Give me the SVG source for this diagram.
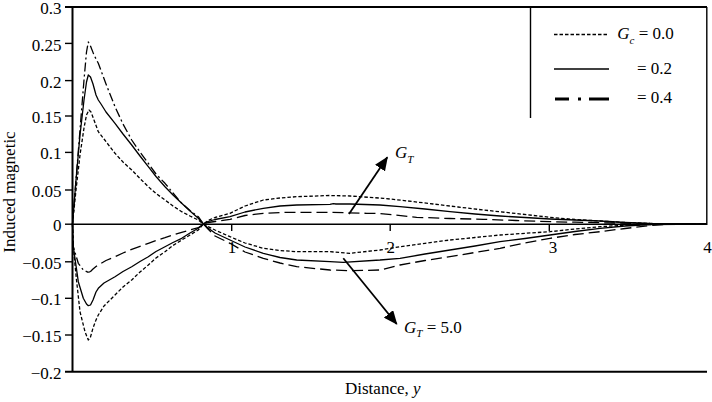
<svg xmlns="http://www.w3.org/2000/svg" width="712" height="402" viewBox="0 0 712 402">
<style>
text{font-family:"Liberation Serif","Times New Roman",serif;font-size:17px;fill:#000}
.it{font-style:italic}
.ax{stroke:#000;stroke-width:2;fill:none}
.thin{stroke:#000;stroke-width:1.4;fill:none}
.c{fill:none;stroke:#000;stroke-width:1.3;stroke-linejoin:round;stroke-linecap:butt}
.sd{stroke-dasharray:3.5 2}
.ld{stroke-dasharray:11 5}
.dd{stroke-dasharray:9 3 2 3}
.arr{stroke:#000;stroke-width:1.8;fill:none}
</style>
<defs>
<marker id="ah" markerUnits="userSpaceOnUse" markerWidth="14" markerHeight="12" refX="13" refY="6" orient="auto">
<path d="M0,0 L14,6 L0,12 z" fill="#000"/>
</marker>
</defs>
<rect width="712" height="402" fill="#fff"/>

<g id="axes">
<line class="ax" x1="72.5" y1="7" x2="72.5" y2="372"/>
<line class="ax" x1="65" y1="7" x2="707" y2="7"/>
<line class="ax" x1="65" y1="371.8" x2="707" y2="371.8"/>
<line class="thin" x1="706.8" y1="7" x2="706.8" y2="225"/>
<line class="thin" x1="72.5" y1="224.2" x2="707" y2="224.2"/>
<line class="thin" x1="530.5" y1="7" x2="530.5" y2="118" stroke-width="1"/>
<g class="thin">
<line x1="65" y1="43.4" x2="72.5" y2="43.4"/>
<line x1="65" y1="80.6" x2="72.5" y2="80.6"/>
<line x1="65" y1="116" x2="72.5" y2="116"/>
<line x1="65" y1="152.4" x2="72.5" y2="152.4"/>
<line x1="65" y1="190" x2="72.5" y2="190"/>
<line x1="65" y1="224.2" x2="72.5" y2="224.2"/>
<line x1="65" y1="261.8" x2="72.5" y2="261.8"/>
<line x1="65" y1="298.3" x2="72.5" y2="298.3"/>
<line x1="65" y1="335" x2="72.5" y2="335"/>
<line x1="231.7" y1="224.2" x2="231.7" y2="231"/>
<line x1="390.2" y1="224.2" x2="390.2" y2="231"/>
<line x1="549.3" y1="224.2" x2="549.3" y2="231"/>
</g>
<g text-anchor="end">
<text x="61.5" y="14">0.3</text>
<text x="61.5" y="50.5">0.25</text>
<text x="61.5" y="87.6">0.2</text>
<text x="61.5" y="123">0.15</text>
<text x="61.5" y="159.4">0.1</text>
<text x="61.5" y="197">0.05</text>
<text x="61.5" y="231.2">0</text>
<text x="61.5" y="268.8">−0.05</text>
<text x="61.5" y="305.3">−0.1</text>
<text x="61.5" y="342">−0.15</text>
<text x="61.5" y="378.7">−0.2</text>
</g>
<g text-anchor="middle">
<text x="232" y="253.3">1</text>
<text x="390.7" y="253.3">2</text>
<text x="553" y="253.3">3</text>
<text x="707.5" y="253.3">4</text>
</g>
<text x="345" y="394">Distance, <tspan class="it">y</tspan></text>
<text transform="translate(15,192) rotate(-90)" text-anchor="middle">Induced magnetic</text>
</g>

<g id="curves">
<polyline class="c dd" points="72.5,224 76,180 80,130 84,80 86.5,52 88.3,42 90.5,46 94,55 98.3,63.3 106,84 115,106.7 123,124 131.7,140 140,152 148.3,163.3 156,174 165,183.3 173,193 181.7,203.3 190,210.5 198.3,216.7 203.5,224"/>
<polyline class="c ld" points="203.5,224 208,229 215,236 230,243.3 245,252 263.3,258.3 280,263 296.7,266.7 330,270 350,270.7 380,270 400,265 425,260.5 450,256.7 475,252.5 500,248.3 525,243 550,238.3 575,234.5 600,231.7 625,228.5 650,225.5 665,224.5 707,224"/>
<polyline class="c" points="72.5,224 76,180 80,135 84,100 86.5,82 88.3,75 90.5,77 93,84 96,95 98.3,100 101,104 106,112 115,123.3 123,134 131.7,145 140,156 148.3,166.7 156,176.5 165,186.7 173,195 181.7,203.3 190,211 198.3,218.3 203.5,224 208,228 215,233 230,240 245,247 263.3,253.3 280,257.5 296.7,260 330,261.7 343.3,262.3 380,260 400,258.3 425,254 450,250 475,246 500,241.7 525,238.5 550,235 575,231.5 600,228.3 625,226 650,224.5 707,224"/>
<polyline class="c sd" points="72.5,224 76,190 80,155 84,128 86.5,115 89,110 91,112 94,120 98.3,131.7 104,139 115,153.3 123,162 131.7,170 140,178.5 148.3,186.7 156,193.5 165,200 173,206 181.7,211.7 190,216 198.3,220 203.5,224 208,226.5 215,230 230,236.7 245,243 263.3,248.3 280,250.5 296.7,251.7 330,251.7 350,253.3 380,250 400,246.7 425,243.3 450,240 475,237.5 500,235 525,233.3 550,231.7 575,229 600,226.7 625,225.2 650,224.5 707,224"/>
<polyline class="c sd" points="72.5,224 73.3,246.7 76.5,280 80,311.7 85,331.7 88.3,340 90.5,337 93,328 96,320 98.3,315 104,306 115,295 123,287 131.7,280 140,272 148.3,265 156,258 165,251.7 173,245.5 181.7,240 190,235 198.3,230 203.5,224 208,220.5 215,217.5 230,213.3 245,206 263.3,200 280,198 296.7,196.7 330,195.5 350,196 383.3,198.3 408,201 433.3,204 458,207 483.3,210 516,213.5 550,217.3 575,219.5 600,221 625,222.5 650,223.5 707,224"/>
<polyline class="c" points="72.5,224 73.3,246.7 78.3,281.7 83.3,298.3 86.5,304 88.3,305.7 90.5,305 93,300 96,292 98.3,288.3 104,283 115,276.7 123,271.5 131.7,266.7 140,261.5 148.3,256.7 156,251.5 165,246.7 173,242.5 181.7,238.3 190,233 198.3,228.3 203.5,224 208,221.5 215,219.5 230,216.7 245,212 263.3,208.3 280,206 296.7,205 330,204.3 333.3,203.6 336,204 350,204 380,205 400,206.7 425,209 450,211.7 475,214 500,216 525,217.5 550,219 575,220 600,221 625,222.5 650,223.5 707,224"/>
<polyline class="c dd" points="72.5,224 73.3,246.7 78.3,263.3 83.3,270 88.3,272.3"/>
<polyline class="c ld" points="88.3,272.3 90.5,271.5 93,269 96,266.5 98.3,265 106,260.5 115,256.7 123,253 131.7,249.3 140,246.3 148.3,243.3 156,240.5 165,237.7 173,235 181.7,232.3 190,230 198.3,227.7 203.5,224 208,222.5 215,221.5 230,219.3 245,215.5 263.3,213.3 280,212.5 296.7,212.3 330,212.3 366.7,213.3 380,213.5 416.7,217.3 450,218.5 483.3,219.3 516,220.5 550,221.7 575,222.2 600,222.7 650,223.7 707,224"/>
</g>

<g id="arrow-up">
<line class="arr" x1="349" y1="214" x2="387.3" y2="157.3" marker-end="url(#ah)"/>
<text x="395" y="158" class="it">G<tspan font-size="11" dy="5">T</tspan></text>
</g>
<g id="arrow-down">
<line class="arr" x1="343.3" y1="258.3" x2="396.7" y2="324" marker-end="url(#ah)"/>
<text x="404" y="333.3"><tspan class="it">G</tspan><tspan class="it" font-size="11" dy="4">T</tspan><tspan dy="-4"> = 5.0</tspan></text>
</g>

<g id="legend">
<line x1="554" y1="34.5" x2="609" y2="34.5" class="c sd"/>
<line x1="554" y1="69" x2="609" y2="69" class="c"/>
<line x1="555" y1="99" x2="609.5" y2="99" stroke="#000" stroke-width="3" stroke-dasharray="14 9 3 8 20"/>
<text x="617.3" y="38.5"><tspan class="it">G</tspan><tspan class="it" font-size="11" dy="5.5">c</tspan><tspan dy="-5.5"> = 0.0</tspan></text>
<text x="672" y="73.5" text-anchor="end">= 0.2</text>
<text x="672" y="103.3" text-anchor="end">= 0.4</text>
</g>
</svg>
